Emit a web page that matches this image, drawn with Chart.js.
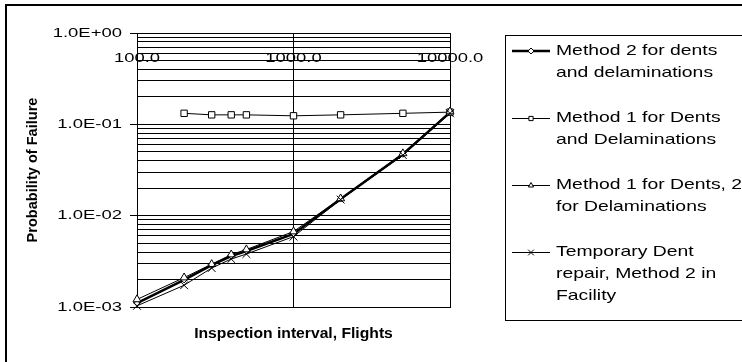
<!DOCTYPE html>
<html><head><meta charset="utf-8">
<script src="https://cdn.jsdelivr.net/npm/chart.js@4/dist/chart.umd.min.js"></script>
<style>html,body{margin:0;padding:0;background:#fff;}canvas{display:block;}</style>
</head><body>
<canvas id="c" width="742" height="362"></canvas>
<script>
// ---- data ----
const flights = [100, 200, 300, 400, 500, 1000, 2000, 5000, 10000];
const method2Both      = [1.10e-3, 1.98e-3, 2.87e-3, 3.60e-3, 4.10e-3, 6.3e-3, 0.0152, 0.047, 0.135];
const method1Both      = [null,    0.132,   0.127,   0.127,   0.127,   0.124,  0.127,  0.132, 0.136];
const method1Dents2Del = [1.21e-3, 2.10e-3, 2.94e-3, 3.75e-3, 4.26e-3, 6.7e-3, 0.0154, 0.048, 0.138];
const tempDentRepair   = [1.03e-3, 1.73e-3, 2.67e-3, 3.35e-3, 3.80e-3, 5.9e-3, 0.0150, 0.046, 0.132];
const legendLabels = [
  ['Method 2 for dents', 'and delaminations'],
  ['Method 1 for Dents', 'and Delaminations'],
  ['Method 1 for Dents, 2', 'for Delaminations'],
  ['Temporary Dent', 'repair, Method 2 in', 'Facility']
];
const xTickValues = [100, 1000, 10000];
const yTickValues = [0.001,0.002,0.003,0.004,0.005,0.006,0.007,0.008,0.009,
                     0.01,0.02,0.03,0.04,0.05,0.06,0.07,0.08,0.09,
                     0.1,0.2,0.3,0.4,0.5,0.6,0.7,0.8,0.9,1];
const xAxisTitle = 'Inspection interval, Flights';
const yAxisTitle = 'Probability of Failure';

// ---- text stretching (reference text is horizontally stretched) ----
const canvas = document.getElementById('c');
const ctx2d = canvas.getContext('2d');
const origFillText = CanvasRenderingContext2D.prototype.fillText;
ctx2d.fillText = function(text, x, y, maxWidth) {
  let sx;
  if (this.__sx) sx = this.__sx;
  else {
    const m = this.getTransform();
    const rotated = Math.abs(m.b) > 0.5;
    if (/bold/.test(this.font)) sx = rotated ? 1.04 : 1.12;
    else sx = 1.42;
  }
  this.save();
  this.translate(x, y);
  this.scale(sx, 1);
  if (maxWidth !== undefined && maxWidth !== null) origFillText.call(this, text, 0, 0, maxWidth / sx);
  else origFillText.call(this, text, 0, 0);
  this.restore();
};

const FONT = '"Liberation Sans", Arial, sans-serif';
const toPts = arr => flights.map((f, i) => ({x: f, y: arr[i]})).filter(p => p.y !== null);
const isDecade = v => { const e = Math.log10(v); return Math.abs(e - Math.round(e)) < 1e-9; };
const fmtE = v => { const n = Math.round(Math.log10(v)); return '1.0E' + (n < 0 ? '-' : '+') + String(Math.abs(n)).padStart(2, '0'); };

const seriesStyles = [
  {pointStyle: 'rectRot', pointRadius: 3, borderWidth: 2.5},
  {pointStyle: 'rect', pointRadius: 4.5, borderWidth: 1},
  {pointStyle: 'triangle', pointRadius: 4.6, borderWidth: 1},
  {pointStyle: 'crossRot', pointRadius: 5.5, borderWidth: 1}
];
const seriesData = [method2Both, method1Both, method1Dents2Del, tempDentRepair];

const datasets = seriesData.map((arr, i) => ({
  label: legendLabels[i].join(' '),
  data: toPts(arr),
  borderColor: '#000',
  backgroundColor: '#fff',
  borderWidth: seriesStyles[i].borderWidth,
  pointStyle: seriesStyles[i].pointStyle,
  pointRadius: seriesStyles[i].pointRadius,
  pointBorderWidth: 1,
  pointBorderColor: '#000',
  pointBackgroundColor: '#fff',
  tension: 0,
  clip: false,
  order: 3 - i
}));

const legendPlugin = {
  id: 'excelLegend',
  afterDraw(chart) {
    const ctx = chart.ctx;
    ctx.save();
    ctx.fillStyle = '#000';
    ctx.fillRect(5, 4, 742, 2);
    ctx.fillRect(5, 4, 2, 362);
    ctx.strokeStyle = '#000';
    ctx.lineWidth = 1;
    ctx.strokeRect(505.5, 35.5, 300, 285);
    chart.data.datasets.forEach((ds, i) => {
      const y0 = 51 + i * 66.9;
      const yl = Math.round(y0) + (ds.borderWidth % 2 === 1 ? 0.5 : 0);
      ctx.strokeStyle = '#000';
      ctx.lineWidth = ds.borderWidth === 1 ? 1 : 2.5;
      ctx.beginPath(); ctx.moveTo(512, yl); ctx.lineTo(550, yl); ctx.stroke();
      ctx.fillStyle = '#fff'; ctx.lineWidth = 1;
      Chart.helpers.drawPoint(ctx, {pointStyle: ds.pointStyle, radius: ds.pointStyle === 'crossRot' ? 4 : 3, borderWidth: 1, rotation: 0}, 531, yl);
      ctx.fillStyle = '#000';
      ctx.font = '15px ' + FONT;
      ctx.textAlign = 'left';
      ctx.textBaseline = 'middle';
      ctx.__sx = 1.29;
      legendLabels[i].forEach((t, j) => ctx.fillText(t, 556, y0 + j * 22));
      ctx.__sx = 0;
    });
    ctx.restore();
  }
};

new Chart(ctx2d, {
  type: 'line',
  data: {datasets},
  options: {
    responsive: false,
    animation: false,
    events: [],
    layout: {padding: {left: 0, top: 33, right: 292, bottom: 0}},
    plugins: {legend: {display: false}, tooltip: {enabled: false}},
    scales: {
      x: {
        type: 'logarithmic', position: 'bottom', min: 100, max: 10000,
        afterBuildTicks: s => { s.ticks = xTickValues.map(v => ({value: v})); },
        afterFit: s => { s.height = 55; },
        ticks: {display: false, autoSkip: false},
        grid: {color: '#000', lineWidth: 1, drawTicks: false},
        border: {display: true, color: '#000', width: 1},
        title: {display: true, text: xAxisTitle, color: '#000', font: {family: FONT, size: 14, weight: 'bold'}, padding: {top: 0, bottom: 19.6}}
      },
      xLabels: {
        axis: 'x', type: 'logarithmic', position: {y: 0.643}, min: 100, max: 10000,
        afterBuildTicks: s => { s.ticks = xTickValues.map(v => ({value: v})); },
        ticks: {autoSkip: false, maxRotation: 0, padding: 0, color: '#000', font: {family: FONT, size: 13},
                callback: v => Number(v).toFixed(1)},
        grid: {display: false, drawTicks: false},
        border: {display: false}
      },
      y: {
        type: 'logarithmic', position: 'left', min: 0.001, max: 1,
        afterBuildTicks: s => { s.ticks = yTickValues.map(v => ({value: v})); },
        afterFit: s => { s.width = 137; },
        ticks: {autoSkip: false, padding: 8, color: '#000', font: {family: FONT, size: 13},
                callback: v => isDecade(v) ? fmtE(v) : ''},
        grid: {color: '#000', lineWidth: 1, drawTicks: true, tickLength: 7,
               tickColor: c => (c.tick && isDecade(c.tick.value)) ? '#000' : 'rgba(0,0,0,0)'},
        border: {display: true, color: '#000', width: 1},
        title: {display: true, text: yAxisTitle, color: '#000', font: {family: FONT, size: 14, weight: 'bold'}, padding: {top: 24.6, bottom: 0}}
      }
    }
  },
  plugins: [legendPlugin]
});
</script>
</body></html>
